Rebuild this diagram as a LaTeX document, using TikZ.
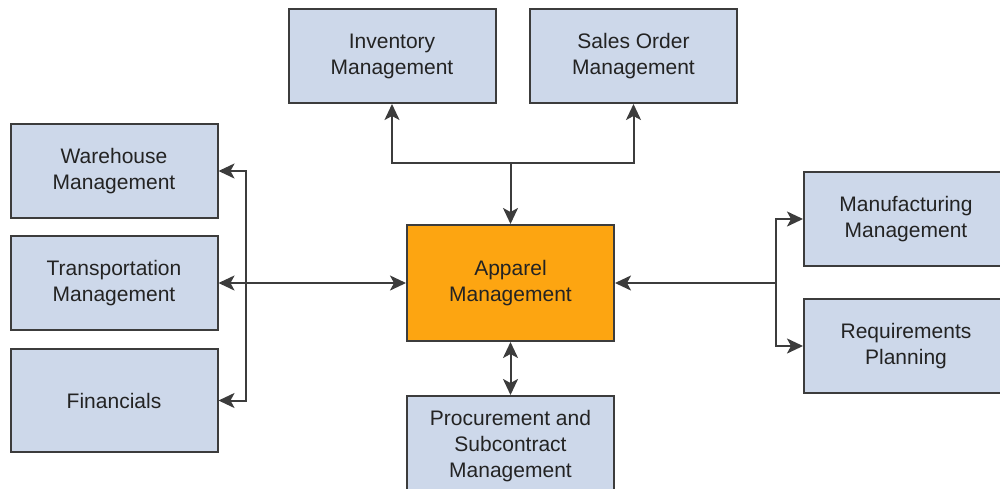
\documentclass[tikz,border=0pt]{standalone}
\usepackage{fontspec}
\setmainfont{Liberation Sans}
\usepackage{tikz}
\usetikzlibrary{calc}
\usetikzlibrary{arrows.meta}
\usetikzlibrary{positioning}
\definecolor{boxblue}{RGB}{205, 216, 234}
\definecolor{apporange}{RGB}{253, 165, 17}
\definecolor{edgegray}{RGB}{60, 60, 60}
\definecolor{textgray}{RGB}{35, 35, 35}

\tikzset{
    modbox/.style={draw=edgegray, line width=2pt, fill=boxblue, text=textgray, align=center,
                   minimum width=207pt, minimum height=94pt, inner sep=0pt,
                   font=\fontsize{21}{26}\selectfont},
    link/.style={draw=edgegray, line width=2pt, -{Stealth[length=16pt, width=15pt, inset=4pt]}},
    duallink/.style={link, {Stealth[length=16pt, width=15pt, inset=4pt]}-{Stealth[length=16pt, width=15pt, inset=4pt]}}
}

\begin{document}
\begin{tikzpicture}[x=1pt, y=-1pt]
            % Frame
            \useasboundingbox (0, 0) rectangle (1000, 488);
            \clip (0, 0) rectangle (1000, 488);
            % Center
            \node[modbox, fill=apporange, minimum height=116pt] (apparel) at (510.5, 283) {Apparel\\Management};
            % Top
            \node[modbox] (inventory) at (392, 56)   {Inventory\\Management};
            \node[modbox] (salesorder) at (633.5, 56) {Sales Order\\Management};
            % Left
            \node[modbox] (warehouse) at (114, 171)   {Warehouse\\Management};
            \node[modbox] (transport) at (114, 283)   {Transportation\\Management};
            \node[modbox, minimum height=103pt] (financials) at (114, 400.5) {Financials};
            % Right
            \node[modbox, minimum width=204pt] (manufacturing) at (906, 219) {Manufacturing\\Management};
            \node[modbox, minimum width=204pt] (requirements) at (906, 346)  {Requirements\\Planning};
            % Bottom (runs past the frame)
            \node[modbox, minimum height=100pt] (procurement) at (510.5, 446) {Procurement and\\Subcontract\\Management};
            % Junctions
            \coordinate (topjoin)   at (510.5, 163);
            \coordinate (leftbus)   at (246, 283);
            \coordinate (rightbus)  at (776, 283);
            % Connectors
            \draw[duallink] (inventory.south) |- (topjoin) -| (salesorder.south);
            \draw[link]     (topjoin) -- (apparel.north);
            \draw[duallink] (transport.east) -- (apparel.west);
            \draw[duallink] (warehouse.east) -| (leftbus) |- (financials.east);
            \draw[link]     (rightbus) -- (apparel.east);
            \draw[duallink] (manufacturing.west) -| (rightbus) |- (requirements.west);
            \draw[duallink] (apparel.south) -- (procurement.north);
        \end{tikzpicture}
\end{document}
